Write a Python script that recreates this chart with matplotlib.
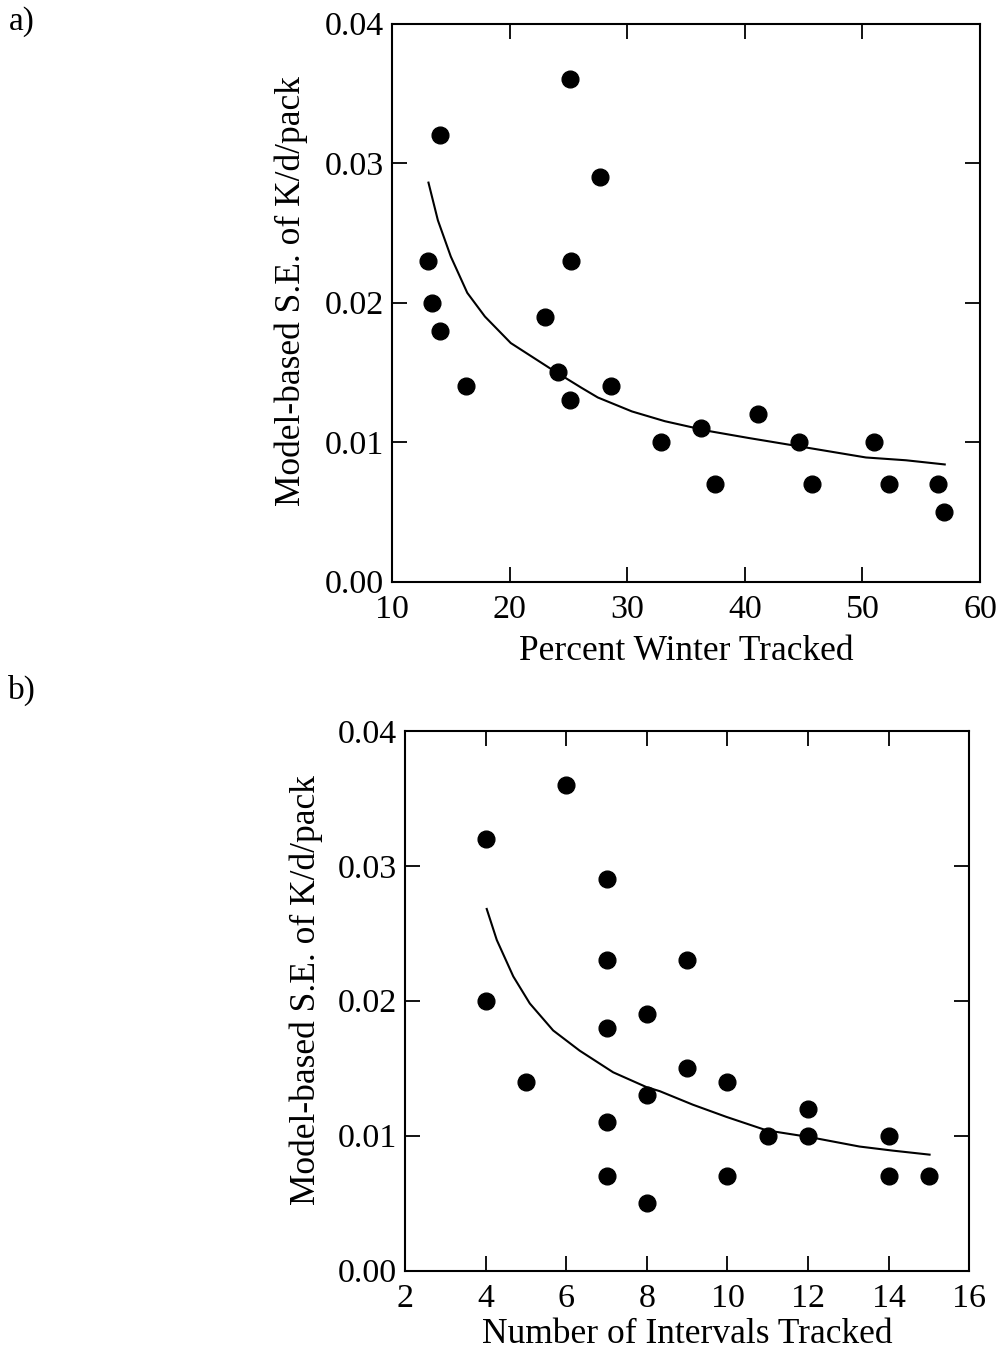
import matplotlib
matplotlib.use("Agg")
import matplotlib.pyplot as plt

plt.rcParams['font.family'] = ['Liberation Serif', 'DejaVu Serif']

# panel a: percent of winter tracked
pct_winter = [13.1, 13.4, 14.1, 14.1, 16.3, 23.0, 24.1, 25.1, 25.1, 25.2, 27.7,
              28.6, 32.9, 36.3, 37.5, 41.1, 44.6, 45.7, 51.0, 52.3, 56.4, 56.9]
se_a = [0.023, 0.020, 0.018, 0.032, 0.014, 0.019, 0.015, 0.013, 0.036, 0.023, 0.029,
        0.014, 0.010, 0.011, 0.007, 0.012, 0.010, 0.007, 0.010, 0.007, 0.007, 0.005]
# fitted curve
curve_a_x = [13.1, 13.9, 15.0, 16.4, 17.9, 20.1, 23.6, 26.1, 27.5, 30.4, 33.2,
             36.9, 40.3, 44.6, 50.3, 53.7, 57.0]
curve_a_y = [0.0286, 0.0259, 0.0233, 0.0207, 0.0190, 0.0171, 0.0152, 0.0139, 0.0132,
             0.0122, 0.0115, 0.0108, 0.0103, 0.0097, 0.0089, 0.0087, 0.0084]

# panel b: number of intervals tracked
n_intervals = [4, 4, 5, 6, 7, 7, 7, 7, 7, 8, 8, 8, 9, 9, 10, 10, 11, 12, 12, 14, 14, 15]
se_b = [0.032, 0.020, 0.014, 0.036, 0.029, 0.023, 0.018, 0.011, 0.007, 0.019, 0.013,
        0.005, 0.023, 0.015, 0.014, 0.007, 0.010, 0.012, 0.010, 0.010, 0.007, 0.007]
curve_b_x = [4.02, 4.27, 4.68, 5.09, 5.67, 6.33, 7.16, 7.99, 8.32, 9.14, 9.97,
             10.97, 12.04, 13.28, 14.1, 15.02]
curve_b_y = [0.0268, 0.0245, 0.0218, 0.0198, 0.0178, 0.0163, 0.0147, 0.0136, 0.0133,
             0.0123, 0.0114, 0.0104, 0.0099, 0.0092, 0.0089, 0.0086]

yticks = [0.00, 0.01, 0.02, 0.03, 0.04]
ylabel = 'Model-based S.E. of K/d/pack'

fig = plt.figure(figsize=(9.99, 13.53), dpi=100)
ax_a = fig.add_axes([0.3924, 0.5701, 0.5886, 0.4125])
ax_b = fig.add_axes([0.4058, 0.0608, 0.5642, 0.3991])


def style(ax):
    for s in ax.spines.values():
        s.set_linewidth(1.5)
    ax.tick_params(direction='in', top=True, right=True, length=11, width=1.3,
                   labelsize=24.5, pad=6)
    ax.tick_params(axis='x', pad=9)
    ax.set_yticks(yticks)
    ax.set_yticklabels(['%.2f' % v for v in yticks])
    ax.set_ylim(0, 0.04)


ax_a.scatter(pct_winter, se_a, s=145, c='black', zorder=3)
ax_a.plot(curve_a_x, curve_a_y, color='black', lw=1.5)
ax_a.set_xlim(10, 60)
ax_a.set_xticks([10, 20, 30, 40, 50, 60])
style(ax_a)
ax_a.set_xlabel('Percent Winter Tracked', fontsize=25.5, va='center')
ax_a.set_ylabel(ylabel, fontsize=25.5, va='center')
ax_a.xaxis.set_label_coords(0.5, -0.126)
ax_a.yaxis.set_label_coords(-0.172, 0.52)

ax_b.scatter(n_intervals, se_b, s=145, c='black', zorder=3)
ax_b.plot(curve_b_x, curve_b_y, color='black', lw=1.5)
ax_b.set_xlim(2, 16)
ax_b.set_xticks([2, 4, 6, 8, 10, 12, 14, 16])
style(ax_b)
ax_b.set_xlabel('Number of Intervals Tracked', fontsize=25.5, va='center')
ax_b.set_ylabel(ylabel, fontsize=25.5, va='center')
ax_b.xaxis.set_label_coords(0.5, -0.119)
ax_b.yaxis.set_label_coords(-0.176, 0.52)

fig.text(22 / 999, 1 - 22 / 1353, 'a)', fontsize=24, ha='center', va='center')
fig.text(22 / 999, 1 - 690 / 1353, 'b)', fontsize=24, ha='center', va='center')

fig.savefig('out.png', dpi=100)
